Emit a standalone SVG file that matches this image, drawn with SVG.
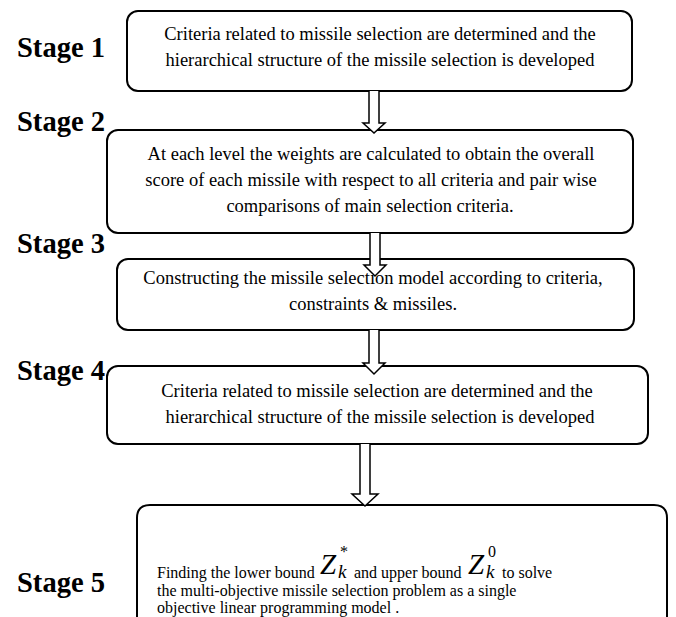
<svg xmlns="http://www.w3.org/2000/svg" width="676" height="617" viewBox="0 0 676 617">
<style>
.box{fill:#fff;stroke:#000;stroke-width:2}
.stage{font-family:"Liberation Serif",serif;font-weight:bold;font-size:30px;fill:#000}
.t{font-family:"Liberation Serif",serif;font-size:18.5px;fill:#000;text-anchor:middle}
.t5{font-family:"Liberation Serif",serif;font-size:16px;fill:#000}
.z{font-family:"Liberation Serif",serif;font-style:italic;font-size:29px;fill:#000}
.k{font-family:"Liberation Serif",serif;font-style:italic;font-size:19px;fill:#000}
.zs{font-family:"Liberation Serif",serif;font-size:16px;fill:#000}
.arr{fill:#fff;stroke:#000;stroke-width:1.5}
</style>
<rect width="676" height="617" fill="#fff"/>
<g id="labels">
<text class="stage" x="17" y="57" textLength="88" lengthAdjust="spacingAndGlyphs">Stage 1</text>
<text class="stage" x="17" y="131" textLength="88" lengthAdjust="spacingAndGlyphs">Stage 2</text>
<text class="stage" x="17" y="253" textLength="88" lengthAdjust="spacingAndGlyphs">Stage 3</text>
<text class="stage" x="17" y="380" textLength="88" lengthAdjust="spacingAndGlyphs">Stage 4</text>
<text class="stage" x="17" y="592" textLength="88" lengthAdjust="spacingAndGlyphs">Stage 5</text>
</g>
<g id="stage1">
<rect class="box" x="127" y="11" width="505" height="80" rx="11"/>
<text class="t" x="380" y="40">Criteria related to missile selection are determined and the</text>
<text class="t" x="380" y="66">hierarchical structure of the missile selection is developed</text>
</g>
<g id="stage2">
<rect class="box" x="107" y="130" width="526" height="103" rx="11"/>
<text class="t" x="371" y="160">At each level the weights are calculated to obtain the overall</text>
<text class="t" x="371" y="186">score of each missile with respect to all criteria and pair wise</text>
<text class="t" x="370" y="212">comparisons of main selection criteria.</text>
</g>
<g id="stage3">
<rect class="box" x="117" y="259" width="517" height="71" rx="11"/>
<text class="t" x="373" y="284">Constructing the missile  selection model according to criteria,</text>
<text class="t" x="373" y="310">constraints &amp; missiles.</text>
</g>
<g id="stage4">
<rect class="box" x="107" y="366" width="541" height="78" rx="11"/>
<text class="t" x="377" y="397">Criteria related to missile selection are determined and the</text>
<text class="t" x="380" y="423">hierarchical structure of the missile selection is developed</text>
</g>
<g id="stage5">
<path class="box" d="M137 630 V518 Q137 505 150 505 H654 Q667 505 667 518 V630"/>
<text class="t5" x="157" y="578">Finding the lower bound</text>
<text class="z" x="320" y="574">Z</text>
<text class="k" x="338" y="578">k</text>
<text class="zs" x="340" y="557">*</text>
<text class="t5" x="354" y="578">and upper bound</text>
<text class="z" x="468" y="574">Z</text>
<text class="k" x="486" y="578">k</text>
<text class="zs" x="488" y="557">0</text>
<text class="t5" x="502" y="578">to solve</text>
<text class="t5" x="157" y="596">the multi-objective missile selection problem as a single</text>
<text class="t5" x="157" y="613">objective linear programming model .</text>
</g>
<g id="connectors">
<path class="arr" d="M369 91 V123 H363 L374 133 L385 123 H379 V91"/>
<path class="arr" d="M370 233 V265 H364 L375 276 L386 265 H380 V233"/>
<path class="arr" d="M369 330 V363 H363 L374 374 L385 363 H379 V330"/>
<path class="arr" d="M360 444 V494 H352 L365 506 L378 494 H370 V444"/>
</g>
</svg>
